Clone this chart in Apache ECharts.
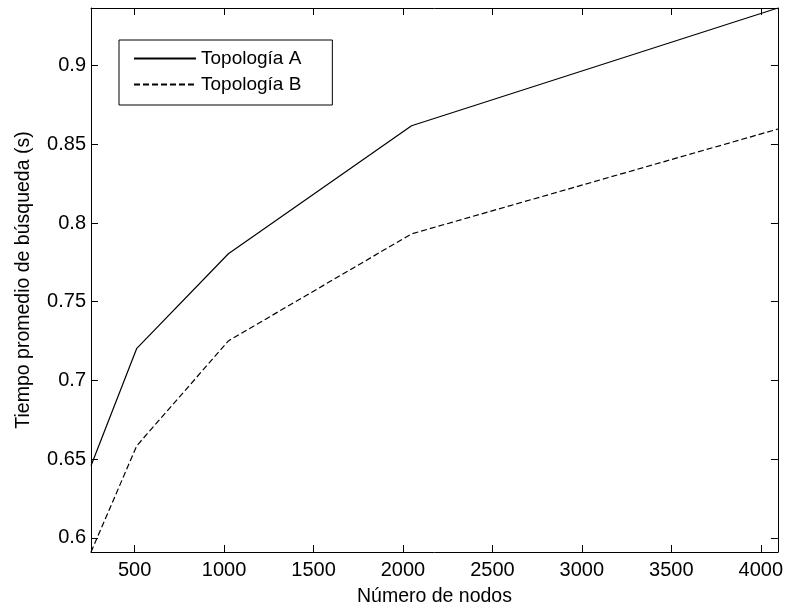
<!DOCTYPE html>
<html>
<head>
<meta charset="utf-8">
<script src="https://cdn.jsdelivr.net/npm/echarts@6/dist/echarts.min.js"></script>
<style>html,body{margin:0;padding:0;background:#fff}#c{width:786px;height:612px}</style>
</head>
<body>
<div id="c"></div>
<script>
var nodos = [256, 512, 1024, 2048, 4096];
var topoA = [0.6458, 0.7204, 0.7805, 0.8618, 0.9366];
var topoB = [0.5910, 0.6585, 0.7251, 0.7931, 0.8597];
var xTicks = [500, 1000, 1500, 2000, 2500, 3000, 3500, 4000];
var yTicks = [0.6, 0.65, 0.7, 0.75, 0.8, 0.85, 0.9];
var seriesNames = ['Topología A', 'Topología B'];
var xTitle = 'Número de nodos';
var yTitle = 'Tiempo promedio de búsqueda (s)';

var FONT = 'Liberation Sans';
var chart = echarts.init(document.getElementById('c'));
function pairs(xs, ys){ return xs.map(function(x,i){ return [x, ys[i]]; }); }
var xMin = nodos[0], xMax = nodos[nodos.length-1];
var yMin = Math.min.apply(null, topoB), yMax = Math.max.apply(null, topoA);
function fmtY(v){ return String(Math.round(v*100)/100); }
function fmtX(v){ return String(Math.round(v)); }
var axLine = {show:true, lineStyle:{color:'#000', width:1}};
var tick = {show:true, inside:true, length:7, lineStyle:{color:'#000', width:1}};
chart.setOption({
  animation:false,
  backgroundColor:'#fff',
  grid:{left:91, right:6, top:8, bottom:59, containLabel:false},
  legend:{
    data:seriesNames, orient:'vertical', left:119, top:40,
    backgroundColor:'#fff', borderColor:'#000', borderWidth:1, borderRadius:0,
    padding:[9, 31, 11, 14], itemGap:7, itemWidth:62, itemHeight:16,
    itemStyle:{opacity:0},
    textStyle:{fontFamily:FONT, fontSize:19, color:'#000', padding:[0,0,0,0]}
  },
  xAxis:[{
    type:'value', min:xMin, max:xMax, position:'bottom',
    name:xTitle, nameLocation:'middle', nameGap:35,
    nameTextStyle:{fontFamily:FONT, fontSize:19.5, color:'#000'},
    axisLine:axLine, axisTick:Object.assign({customValues:xTicks}, tick),
    axisLabel:{customValues:xTicks, formatter:fmtX, fontFamily:FONT, fontSize:20, color:'#000', margin:8},
    splitLine:{show:false}
  },{
    type:'value', min:xMin, max:xMax, position:'top',
    axisLine:axLine, axisTick:Object.assign({customValues:xTicks}, tick),
    axisLabel:{show:false}, splitLine:{show:false}
  }],
  yAxis:[{
    type:'value', min:yMin, max:yMax, position:'left',
    name:yTitle, nameLocation:'middle', nameGap:57, nameRotate:90,
    nameTextStyle:{fontFamily:FONT, fontSize:19.5, color:'#000'},
    axisLine:axLine, axisTick:Object.assign({customValues:yTicks}, tick),
    axisLabel:{customValues:yTicks, formatter:fmtY, fontFamily:FONT, fontSize:20, color:'#000', margin:5},
    splitLine:{show:false}
  },{
    type:'value', min:yMin, max:yMax, position:'right',
    axisLine:axLine, axisTick:Object.assign({customValues:yTicks}, tick),
    axisLabel:{show:false}, splitLine:{show:false}
  }],
  series:[{
    name:seriesNames[0], type:'line', data:pairs(nodos, topoA),
    symbol:'none', lineStyle:{color:'#000', width:1.2, type:'solid'}, itemStyle:{color:'#000'}
  },{
    name:seriesNames[1], type:'line', data:pairs(nodos, topoB),
    symbol:'none', lineStyle:{color:'#000', width:1.2, type:[6,3]}, itemStyle:{color:'#000'}
  }]
});
</script>
</body>
</html>
